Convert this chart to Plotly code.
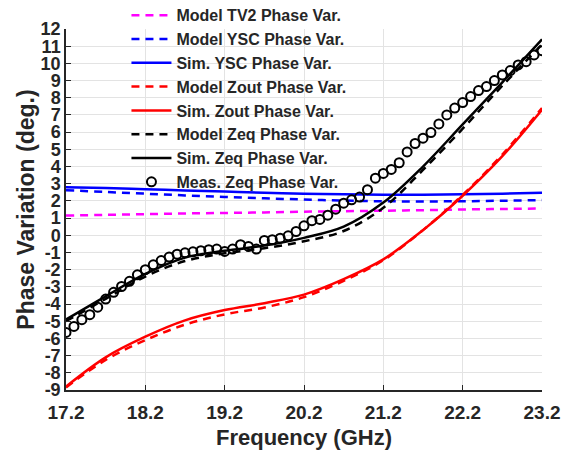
import plotly.graph_objects as go

# frequency grid for the model / sim curves (GHz)
freq = [17.2, 17.7, 18.2, 18.7, 19.2, 19.7, 20.2, 20.7, 21.2, 21.7, 22.2, 22.7, 23.2]

tv2_model = [1.15, 1.19, 1.23, 1.27, 1.30, 1.33, 1.37, 1.40, 1.43, 1.46, 1.50, 1.53, 1.56]
ysc_model = [2.62, 2.52, 2.42, 2.32, 2.23, 2.15, 2.08, 2.02, 1.98, 1.97, 1.98, 2.01, 2.05]
ysc_sim = [2.80, 2.75, 2.68, 2.61, 2.54, 2.47, 2.42, 2.38, 2.36, 2.36, 2.38, 2.42, 2.47]
zout_model = [-8.85, -7.25, -6.1, -5.2, -4.6, -4.2, -3.6, -2.65, -1.45, 0.3, 2.35, 4.7, 7.4]
zout_sim = [-8.8, -7.1, -5.9, -4.95, -4.35, -3.95, -3.45, -2.55, -1.4, 0.3, 2.3, 4.6, 7.3]
zeq_model = [-5.0, -3.7, -2.4, -1.5, -1.05, -0.75, -0.35, 0.25, 1.6, 3.8, 6.2, 8.7, 11.1]
zeq_sim = [-4.9, -3.55, -2.25, -1.3, -0.9, -0.6, -0.15, 0.5, 1.9, 4.0, 6.45, 8.9, 11.4]

# measured points, every 0.1 GHz
meas_freq = [round(17.2 + 0.1 * i, 1) for i in range(61)]
zeq_meas = [-5.65, -5.30, -4.91, -4.62, -4.18, -3.71, -3.32, -2.98, -2.68, -2.30,
            -2.00, -1.72, -1.47, -1.27, -1.10, -1.02, -0.96, -0.90, -0.84, -0.80,
            -0.94, -0.80, -0.55, -0.65, -0.80, -0.30, -0.26, -0.17, -0.03, 0.22,
            0.55, 0.85, 0.92, 1.17, 1.52, 1.87, 2.06, 2.22, 2.65, 3.32,
            3.60, 3.83, 4.22, 4.85, 5.34, 5.65, 5.98, 6.48, 7.00, 7.40,
            7.72, 8.07, 8.42, 8.65, 9.00, 9.33, 9.58, 9.91, 10.10, 10.49, 10.74]

x_ticks = [17.2, 18.2, 19.2, 20.2, 21.2, 22.2, 23.2]
y_ticks = list(range(-9, 13))

DASH = "8px,6px"
fig = go.Figure()

def add_line(y, name, color, dash):
    fig.add_trace(go.Scatter(x=freq, y=y, name=name, mode="lines",
                             line=dict(color=color, width=2.5, dash=dash, shape="spline")))

add_line(tv2_model, "Model TV2 Phase Var.", "#FF00FF", DASH)
add_line(ysc_model, "Model YSC Phase Var.", "#0000FF", DASH)
add_line(ysc_sim, "Sim. YSC Phase Var.", "#0000FF", "solid")
add_line(zout_model, "Model Zout Phase Var.", "#FF0000", DASH)
add_line(zout_sim, "Sim. Zout Phase Var.", "#FF0000", "solid")
add_line(zeq_model, "Model Zeq Phase Var.", "#000000", DASH)
add_line(zeq_sim, "Sim. Zeq Phase Var.", "#000000", "solid")

fig.add_trace(go.Scatter(x=meas_freq, y=zeq_meas, name="Meas. Zeq Phase Var.", mode="markers",
                         marker=dict(symbol="circle-open", size=9, color="#000000",
                                     line=dict(width=2, color="#000000"))))

font = dict(family="Arial, Liberation Sans, sans-serif", color="#262626", weight="bold")

fig.update_layout(
    width=564, height=457,
    margin=dict(l=66, r=22, t=29, b=67, autoexpand=False),
    plot_bgcolor="white", paper_bgcolor="white",
    font=dict(**font, size=16),
    showlegend=True,
    legend=dict(x=0.127, y=1.085, xanchor="left", yanchor="top",
                bgcolor="rgba(0,0,0,0)", font=dict(**font, size=16),
                itemwidth=40),
    xaxis=dict(range=[17.2, 23.2], tickvals=x_ticks, ticktext=[str(v) for v in x_ticks],
               showgrid=True, gridcolor="#e3e3e3", gridwidth=1,
               showline=True, linecolor="#262626", linewidth=1.5,
               ticks="inside", ticklen=5, tickcolor="#262626", ticklabelstandoff=4,
               tickfont=dict(**font, size=19), zeroline=False,
               title=dict(text="Frequency (GHz)", font=dict(**font, size=22), standoff=8)),
    yaxis=dict(range=[-9, 12], tickvals=y_ticks, ticktext=[str(v) for v in y_ticks],
               showgrid=True, gridcolor="#e3e3e3", gridwidth=1,
               showline=True, linecolor="#262626", linewidth=1.5,
               ticks="inside", ticklen=5, tickcolor="#262626",
               tickfont=dict(**font, size=18), zeroline=False,
               title=dict(text="Phase Variation (deg.)", font=dict(**font, size=23), standoff=0)),
)

# drop the page's default body margin so the figure sits at the window corner
fig.write_html("out.html", config={"displayModeBar": False},
               post_script="document.body.style.margin='0';")
